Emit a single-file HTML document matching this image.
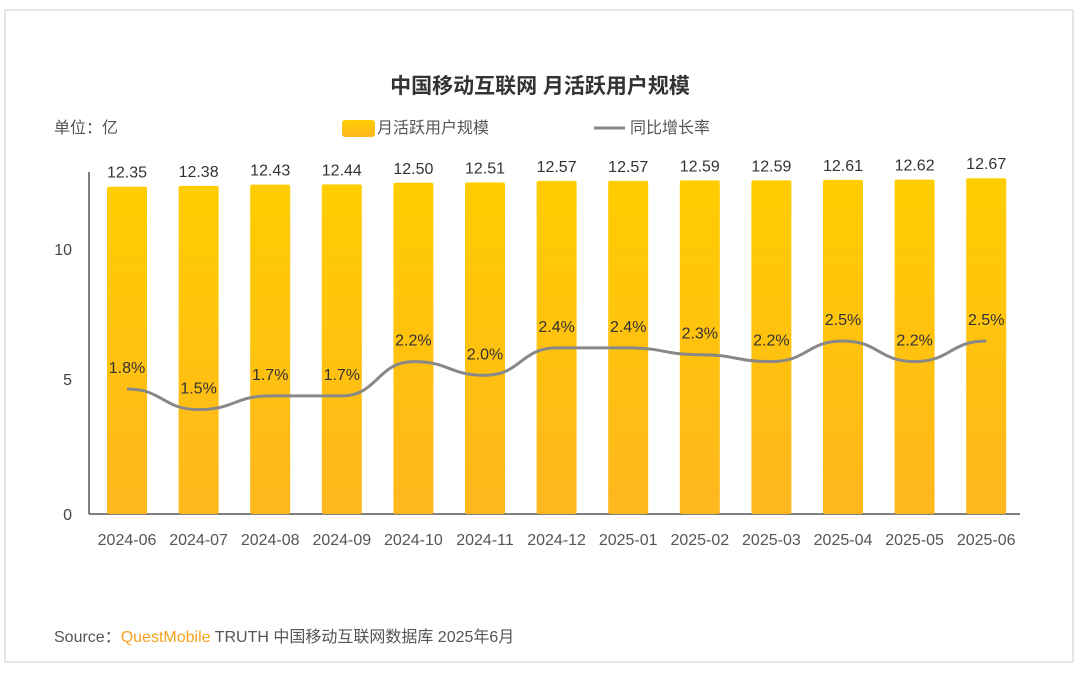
<!DOCTYPE html>
<html><head><meta charset="utf-8"><style>
body{margin:0;width:1080px;height:669px;background:#fff;overflow:hidden}
text{font-family:"Liberation Sans","Noto Sans CJK SC",sans-serif}
</style></head><body>
<svg width="1080" height="669" viewBox="0 0 1080 669">
<defs>
<linearGradient id="gr" x1="0" y1="0" x2="0" y2="1"><stop offset="0" stop-color="#FFCD00"/><stop offset="1" stop-color="#FFB71E"/></linearGradient>
</defs>
<rect x="5" y="10" width="1068" height="652" fill="#fff" stroke="#ddd" stroke-width="1.5"/>
<text x="540" y="93" text-anchor="middle" font-size="21" font-weight="bold" fill="#333">中国移动互联网 月活跃用户规模</text>
<text x="54" y="133" font-size="16" fill="#555">单位：亿</text>
<rect x="342" y="120" width="33" height="17" rx="3" fill="url(#gr)"/>
<text x="377" y="133" font-size="16" fill="#555">月活跃用户规模</text>
<line x1="594" y1="128" x2="625" y2="128" stroke="#888" stroke-width="3"/>
<text x="630" y="133" font-size="16" fill="#555">同比增长率</text>
<line x1="89" y1="172" x2="89" y2="514" stroke="#555" stroke-width="1.5"/>
<line x1="89" y1="514" x2="1020" y2="514" stroke="#555" stroke-width="1.5"/>
<g font-size="16" fill="#444" text-anchor="end">
<text x="72" y="520">0</text><text x="72" y="385">5</text><text x="72" y="255">10</text></g>
<g id="bars"></g>
<g id="labs" font-size="16" fill="#333" text-anchor="middle"></g>
<path id="ln" fill="none" stroke="#888" stroke-width="3"/>
<g id="pl" font-size="16" fill="#333" text-anchor="middle"></g>
<g id="xl" font-size="16" fill="#555" text-anchor="middle"></g>
<text x="54" y="642" font-size="16" fill="#555">Source：<tspan fill="#F7A21B">QuestMobile</tspan> TRUTH 中国移动互联网数据库 2025年6月</text>
</svg>
<script>
(function(){
var v=[12.35,12.38,12.43,12.44,12.50,12.51,12.57,12.57,12.59,12.59,12.61,12.62,12.67];
var p=[1.8,1.5,1.7,1.7,2.2,2.0,2.4,2.4,2.3,2.2,2.5,2.2,2.5];
var m=["2024-06","2024-07","2024-08","2024-09","2024-10","2024-11","2024-12","2025-01","2025-02","2025-03","2025-04","2025-05","2025-06"];
var ns="http://www.w3.org/2000/svg";
function el(t,a,par,txt){var e=document.createElementNS(ns,t);for(var k in a)e.setAttribute(k,a[k]);if(txt)e.textContent=txt;document.getElementById(par).appendChild(e);}
var pts=[];
for(var i=0;i<13;i++){var cx=127+i*71.6;var ty=514-v[i]*26.5;
el("rect",{x:cx-20,y:ty,width:40,height:514-ty,fill:"url(#gr)",rx:2},"bars");
el("text",{x:cx,y:ty-9},"labs",v[i].toFixed(2));
var py=512.5-68.6*p[i];pts.push([cx,py]);
el("text",{x:cx,y:py-16},"pl",p[i].toFixed(1)+"%");
el("text",{x:cx,y:545},"xl",m[i]);}
var d="M"+pts[0][0]+","+pts[0][1];
for(var i=1;i<13;i++){var a=pts[i-1],b=pts[i],mx=(a[0]+b[0])/2;d+=" C"+mx+","+a[1]+" "+mx+","+b[1]+" "+b[0]+","+b[1];}
document.getElementById("ln").setAttribute("d",d);
})();
</script>
</body></html>
